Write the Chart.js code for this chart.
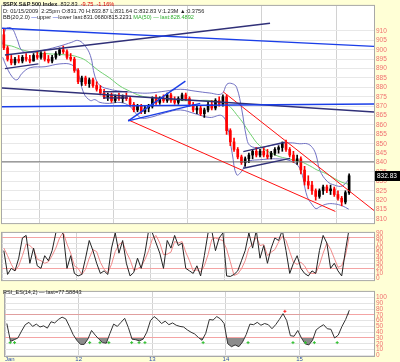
<!DOCTYPE html>
<html>
<head>
<meta charset="utf-8">
<script src="https://cdn.jsdelivr.net/npm/chart.js@4.4.1/dist/chart.umd.min.js"></script>
<style>
  body { margin: 0; background: #ffffd6; }
  #wrap { position: relative; width: 400px; height: 362px; background: #ffffd6; overflow: hidden;
          font-family: "Liberation Sans", Arial, sans-serif; }
  canvas { position: absolute; left: 0; }
  .t { position: absolute; left: 3px; font-size: 5.6px; line-height: 6px; white-space: nowrap; color: #222; }
  .r { color: #e00000; }
  .g { color: #30b030; }
  .b { color: #2030d0; }
</style>
</head>
<body>
<div id="wrap">
  <canvas id="main" width="400" height="229" style="top:0"></canvas>
  <canvas id="ss" width="400" height="59" style="top:227px"></canvas>
  <canvas id="rsi" width="400" height="76" style="top:286px"></canvas>
  <div class="t" style="top:1px"><b>$SPX S&amp;P 500 Index</b> &nbsp;832.83 &nbsp;<span class="r">-9.75 &nbsp;-1.16%</span></div>
  <div class="t" style="top:8px">D: 01/15/2009 &nbsp;2:25pm O:831.70 H:833.87 L:831.64 C:832.83 V:1.23M &#9650;:0.3756</div>
  <div class="t" style="top:14px">BB(20,2.0) <span class="b">&mdash;</span>upper <span class="b">&mdash;</span>lower last:831.0680/815.2231 <span class="g">MA(50) &mdash; last:828.4892</span></div>
  <div class="t" style="top:289px">RSI_ES(14,2) &mdash; last=77.58843</div>
</div>
<script>
// etiquetas de los días (eje X) y barras por día
const days = ['Jan', '12', '13', '14', '15']
const barsPerDay = 20

// velas intradía del S&P 500
const opens = [908,901,895,893,895,894,896,895,894,897,896,898,895,894,896,898,900,899,896,895,
  889,883,885,882,884,881,879,877,875,876,873,875,874,875,874,871,868,870,867,869,
  870,874,872,874,873,876,873,872,874,876,874,871,868,869,866,868,871,869,873,871,
  875,857,851,847,843,840,842,844,846,844,846,844,843,845,847,848,850,847,844,841,
  842,836,830,828,825,822,825,827,825,826,823,821,819,824]
const highs = [911,902,897,896,897,897,898,897,898,899,899,899,897,897,899,901,902,900,898,896,
  890,886,886,885,885,883,881,879,877,877,876,877,876,877,875,872,871,871,870,871,
  875,876,875,876,877,877,875,875,877,877,875,872,870,870,869,872,873,874,875,876,
  876,858,853,848,844,843,845,847,848,847,848,847,846,848,849,851,852,848,846,844,
  843,838,833,830,826,826,828,828,828,827,825,822,825,834]
const lows = [900,894,892,892,893,893,894,893,894,895,895,894,893,893,895,897,898,895,894,888,
  882,881,881,880,880,878,876,874,873,872,872,873,872,873,870,867,867,866,866,867,
  869,871,871,872,872,872,871,871,873,873,870,867,866,865,864,867,868,868,870,870,
  855,849,846,842,839,838,840,842,843,843,843,842,842,844,845,846,846,843,840,839,
  834,828,826,823,820,821,823,824,823,822,820,817,818,823]
const closes = [901,895,893,895,894,896,895,894,897,896,898,895,894,896,898,900,899,896,895,889,
  883,885,882,884,881,879,877,875,876,873,875,874,875,874,871,868,870,867,869,870,
  874,872,874,873,876,873,872,874,876,874,871,868,869,866,868,871,869,873,871,875,
  857,851,847,843,840,842,844,846,844,846,844,843,845,847,848,850,847,844,841,842,
  836,830,828,825,822,825,827,825,826,823,821,819,824,833]
const lastPrice = 832.83

// bandas de Bollinger y media de 50 (en días desde el 9 de enero)
const bandTimes = [0.01,0.05,0.13,0.20,0.27,0.38,0.58,0.78,0.94,1.02,1.10,1.19,1.25,1.32,1.45,1.59,
  1.72,1.86,1.99,2.20,2.40,2.60,2.80,2.96,3.03,3.10,3.16,3.23,3.29,3.34,3.47,3.68,3.88,4.01,4.11,
  4.18,4.23,4.28,4.38,4.48,4.58,4.67]
const bbUpper = [903,911,911.5,906,899.5,898.5,900,902,904,905,903,897,886,881,879,878,
  877.5,877,877,878,879,878,877,876.6,881.7,882,880,868,854,849,848,849.5,850.5,850,850,
  848,844,836,830,828,827.5,831]
const bbLower = [896,892,886,884,887.5,890.5,891,892.5,892,888,877,873,873.5,872,871.5,872,
  870,864,864,866.5,868,866,864,865,860,845,833.5,835.5,840,841,841.5,842,841,837,822,
  817.5,815.5,816.5,818,818,817,815.2]
const ma50 = [902.8,902.5,902,901,900,899,898,897.5,897,896.2,895,892.5,890.5,888.4,885,880.7,
  878,875.6,874.6,874,873,873,873,872,871,868.5,865.5,862,858.5,855.5,849,844,841.8,840.7,839,
  837.5,836.3,835.5,833.8,831.5,829.5,828.4]

// líneas de tendencia [t1, precio1, t2, precio2]
const blueLines = [[0, 911.5, 5.01, 901.8], [0, 869.7, 5.01, 871.2],
  [1.70, 862.2, 2.47, 883.3], [1.70, 862.2, 2.67, 871.5]]
const navyLines = [[0.04, 897.2, 3.61, 914.1], [0.04, 890, 0.49, 892.5], [0, 879.7, 5.01, 866.9],
  [1.36, 877.7, 1.69, 877.7], [1.36, 874.4, 1.69, 874.4],
  [3.25, 845.8, 3.81, 850.9], [3.25, 837, 3.88, 842.2]]
const redLines = [[2.98, 877.6, 5.01, 814.5], [1.70, 862.7, 4.49, 814]]
const grayLines = [[0, 840.4, 5.01, 840.4]]

// oscilador estocástico
const pctK = [55,8,20,15,40,80,85,30,60,25,20,45,35,55,90,95,88,20,45,10,
  5,8,40,75,55,30,10,15,8,60,90,50,75,30,5,12,40,20,50,95,
  90,70,50,20,75,60,85,65,70,20,15,10,25,5,45,90,95,55,80,90,
  5,4,8,15,35,55,90,60,95,40,65,30,60,80,75,95,55,10,30,45,
  20,10,5,15,10,55,85,70,20,30,15,5,55,98]
const pctD = [60,45,28,15,25,45,68,65,58,38,35,30,33,45,60,80,91,68,50,25,
  20,8,18,40,57,53,32,18,11,28,53,67,72,52,37,16,19,24,37,55,
  78,85,70,47,48,52,73,70,73,52,35,15,17,13,25,47,77,80,77,75,
  58,33,6,9,19,35,60,68,82,65,67,45,52,57,72,83,75,53,32,28,
  32,25,12,10,10,27,50,70,58,40,22,25,45,82]

// RSI
const rsi = [55,24,27,30,42,53,57,50,54,49,51,47,58,56,62,66,63,50,36,26,
  19,19,28,43,35,28,22,21,38,54,50,57,64,48,28,27,25,28,40,60,
  67,62,55,59,53,56,52,50,49,44,40,37,31,26,38,62,61,67,63,55,
  20,15,18,15,23,36,54,53,57,52,55,53,46,53,62,72,60,34,33,43,
  30,20,18,26,44,49,53,46,45,30,35,50,62,78]
const buyTimes = [0.07,0.13,1.15,1.29,1.41,1.72,1.82,1.90,2.69,3.30,3.91,4.08,4.20,4.51]
const sellTimes = [3.80]

const times = closes.map((_, i) => Math.floor(i / barsPerDay) + (i % barsPerDay + 0.5) / barsPerDay)
const candleColor = closes.map((c, i) => c < opens[i] ? '#ff0000' : '#000000')

// fondo blanco del panel y marco gris
const panelBg = {
  id: 'panelBg',
  beforeDraw(chart) {
    const { ctx, chartArea: a } = chart
    ctx.save()
    ctx.fillStyle = '#ffffff'
    ctx.fillRect(a.left, a.top, a.right - a.left, a.bottom - a.top)
    ctx.restore()
  },
  afterDraw(chart) {
    const { ctx, chartArea: a } = chart
    ctx.save()
    ctx.strokeStyle = '#a8a8a8'
    ctx.lineWidth = 1
    ctx.strokeRect(a.left - 0.5, a.top - 0.5, a.right - a.left + 1, a.bottom - a.top + 1)
    ctx.restore()
  }
}

// recuadro negro con el último precio
const lastBox = {
  id: 'lastBox',
  afterDraw(chart) {
    const { ctx, chartArea: a, scales } = chart
    const y = Math.round(scales.y.getPixelForValue(lastPrice))
    ctx.save()
    ctx.fillStyle = '#000'
    ctx.fillRect(a.right + 1, y - 5, 26, 10)
    ctx.fillStyle = '#fff'
    ctx.font = '6.5px "Liberation Sans"'
    ctx.textBaseline = 'middle'
    ctx.fillText(lastPrice.toFixed(2), a.right + 3, y + 0.5)
    ctx.restore()
  }
}

function lineSet(arr, color, width) {
  return arr.map(l => ({
    type: 'line', data: [{ x: l[0], y: l[1] }, { x: l[2], y: l[3] }],
    borderColor: color, borderWidth: width, pointRadius: 0, order: 0
  }))
}

const xScale = (showTicks) => ({
  type: 'linear', min: 0, max: 5.01, offset: false,
  ticks: {
    display: showTicks, stepSize: 1, autoSkip: false, align: 'inner', padding: 0,
    color: '#3050b0', font: { size: 6, family: 'Liberation Sans' },
    callback: v => days[v] ?? ''
  },
  grid: { color: '#d2d2d2', drawTicks: false },
  border: { display: false },
  afterFit: s => { s.height = showTicks ? 6 : 0 }
})

const yScale = (min, max, step, gridColor, top) => ({
  position: 'right', min: min, max: max,
  ticks: { stepSize: step, includeBounds: false, autoSkip: false, padding: 2, color: '#f07070',
    font: { size: 6.5, family: 'Liberation Sans' } },
  grid: { color: gridColor, drawTicks: false },
  border: { display: false },
  afterBuildTicks: s => { s.ticks = s.ticks.filter(t => t.value <= top) },
  afterFit: s => { s.width = 26 }
})

const baseOptions = (padTop, padBottom) => ({
  responsive: false, animation: false, devicePixelRatio: 1,
  layout: { padding: { left: 2, top: padTop, bottom: padBottom, right: 0 } },
  plugins: { legend: { display: false }, tooltip: { enabled: false } }
})

// panel principal
const mainOpts = baseOptions(2, 2)
mainOpts.scales = { x: xScale(false), y: yScale(807.8, 923.35, 5, '#e8e8e8', 910) }
new Chart(document.getElementById('main'), {
  type: 'bar',
  data: {
    datasets: [
      ...lineSet(blueLines, '#1a3ee8', 1.4),
      ...lineSet(navyLines, '#303078', 1.4),
      ...lineSet(redLines, '#ff1010', 1),
      ...lineSet(grayLines, '#707070', 1),
      { type: 'bar', data: times.map((t, i) => ({ x: t, y: [opens[i], closes[i]] })),
        backgroundColor: candleColor, barThickness: 2, minBarLength: 1, grouped: false, order: 1 },
      { type: 'bar', data: times.map((t, i) => ({ x: t, y: [lows[i], highs[i]] })),
        backgroundColor: candleColor, barThickness: 1, grouped: false, order: 2 },
      { type: 'line', data: bandTimes.map((t, i) => ({ x: t, y: bbUpper[i] })),
        borderColor: '#7272c4', borderWidth: 1, pointRadius: 0, tension: 0.4, order: 3 },
      { type: 'line', data: bandTimes.map((t, i) => ({ x: t, y: bbLower[i] })),
        borderColor: '#7272c4', borderWidth: 1, pointRadius: 0, tension: 0.4, order: 3 },
      { type: 'line', data: bandTimes.map((t, i) => ({ x: t, y: ma50[i] })),
        borderColor: '#70d070', borderWidth: 1, pointRadius: 0, tension: 0.4, order: 3 }
    ]
  },
  options: mainOpts,
  plugins: [panelBg, lastBox]
})

// panel estocástico
const ssOpts = baseOptions(0, 0)
ssOpts.scales = { x: xScale(false),
  y: yScale(-3.2, 90, 10, c => (c.tick.value === 80 || c.tick.value === 20) ? '#f4a4a4' : '#e4e4e4', 90) }
new Chart(document.getElementById('ss'), {
  type: 'line',
  data: {
    datasets: [
      { data: times.map((t, i) => ({ x: t, y: pctK[i] })), borderColor: '#222', borderWidth: 1,
        pointRadius: 0, tension: 0 },
      { data: times.map((t, i) => ({ x: t, y: pctD[i] })), borderColor: '#f08a8a', borderWidth: 1,
        pointRadius: 0, tension: 0 }
    ]
  },
  options: ssOpts,
  plugins: [panelBg]
})

// panel RSI
const rsiOpts = baseOptions(1, 0)
rsiOpts.scales = { x: xScale(true),
  y: yScale(-1.1, 109.6, 10, c => (c.tick.value === 70 || c.tick.value === 30) ? '#f4a4a4' : '#e4e4e4', 100) }
const rsiPoints = times.map((t, i) => ({ x: t, y: rsi[i] }))
new Chart(document.getElementById('rsi'), {
  type: 'line',
  data: {
    datasets: [
      { data: rsiPoints, borderColor: '#333', borderWidth: 1, pointRadius: 0, tension: 0,
        fill: false, order: 1 },
      { data: rsiPoints, borderColor: 'transparent', borderWidth: 0, pointRadius: 0, tension: 0,
        fill: { value: 30, above: 'rgba(0,0,0,0)', below: '#8c8c8c' }, order: 2 },
      { data: rsiPoints, borderColor: 'transparent', borderWidth: 0, pointRadius: 0, tension: 0,
        fill: { value: 70, above: '#8c8c8c', below: 'rgba(0,0,0,0)' }, order: 2 },
      { data: buyTimes.map(t => ({ x: t, y: 22 })), showLine: false, pointStyle: 'cross',
        pointRadius: 1.5, borderColor: '#30c030', borderWidth: 1, order: 0 },
      { data: sellTimes.map(t => ({ x: t, y: 76 })), showLine: false, pointStyle: 'cross',
        pointRadius: 1.5, borderColor: '#ff2020', borderWidth: 1, order: 0 }
    ]
  },
  options: rsiOpts,
  plugins: [panelBg]
})
</script>
</body>
</html>
